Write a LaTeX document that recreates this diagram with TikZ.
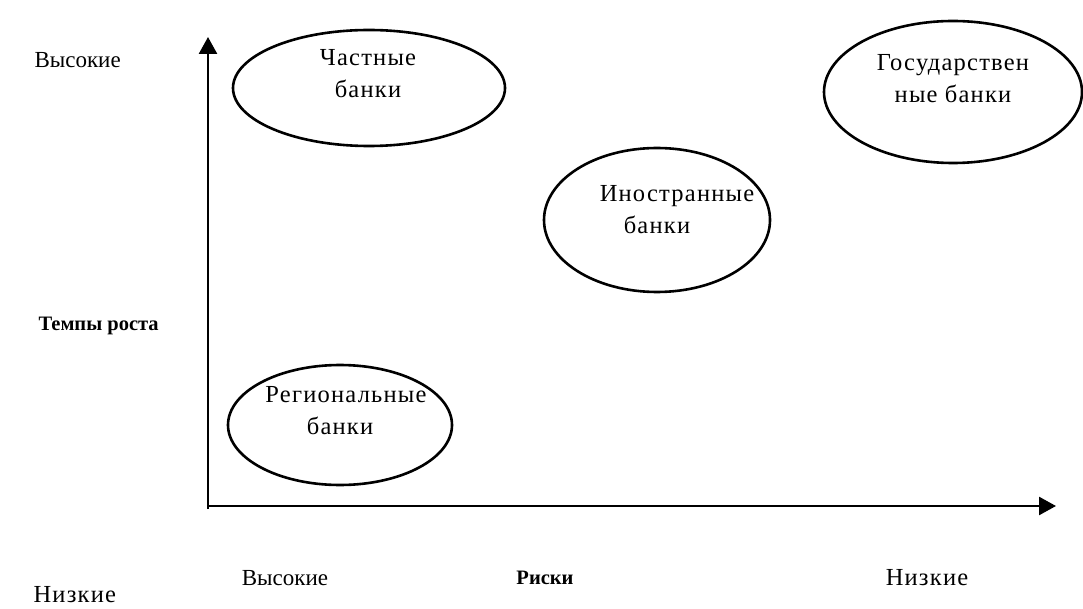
\documentclass[tikz,border=0pt]{standalone}
\usepackage{fontspec}
\setmainfont{Liberation Serif}
\newfontfamily\spaced[LetterSpace=5]{Liberation Serif}
\usetikzlibrary{shapes.geometric,arrows.meta}

\begin{document}
\begin{tikzpicture}[x=1pt, y=-1pt,
  bank/.style={draw, ellipse, line width=2.6pt},
  txt/.style={align=center, font=\fontsize{24.5}{32}\spaced},
  plain/.style={font=\fontsize{23}{28}\selectfont},
  head/.style={font=\fontsize{20.5}{24}\selectfont\bfseries},
  axis/.style={line width=2.6pt, -{Triangle[length=17pt,width=18pt]}}]
  \useasboundingbox (0,0) rectangle (1083,609);
  % axes
  \coordinate (o) at (208,506);
  \coordinate (ytop) at (208,37);
  \coordinate (xend) at (1056,506);
  \draw[line width=2.6pt] (208,509) -- (o);
  \draw[axis] (o) -- (ytop);
  \draw[axis] (o) -- (xend);
  % banks
  \node[bank, minimum width=272pt, minimum height=116pt] (priv) at (369,88) {};
  \node[bank, minimum width=258pt, minimum height=142pt] (state) at (953,92) {};
  \node[bank, minimum width=226pt, minimum height=144pt] (foreign) at (657,220) {};
  \node[bank, minimum width=224pt, minimum height=120pt] (region) at (340,425) {};
  \node[txt] (privtxt) at (368,74) {Частные\\банки};
  \node[txt] (statetxt) at (953,79) {Государствен\\ные банки};
  \node[txt] (foreigntxt) at (677,210) {Иностранные\\\hspace*{-40pt}банки};
  \node[txt] (regiontxt) at (346,411) {Региональные\\\hspace*{-12pt}банки};
  % axis labels
  \node[plain, anchor=west] (yhigh) at (31,60) {Высокие};
  \node[head, anchor=west] (ylab) at (35,326) {Темпы роста};
  \node[plain] (xhigh) at (285,578) {Высокие};
  \node[head] (xlab) at (545,578) {Риски};
  \node[txt] (xlow) at (927,578) {Низкие};
  \node[txt, anchor=west] (ylow) at (30,595) {Низкие};
\end{tikzpicture}
\end{document}
